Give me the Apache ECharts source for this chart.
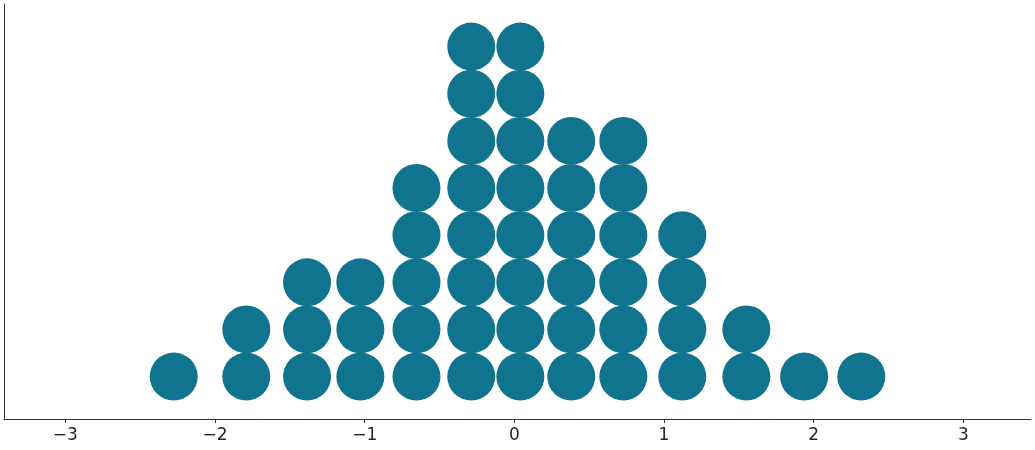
<!DOCTYPE html>
<html><head><meta charset="utf-8">
<script src="https://cdn.jsdelivr.net/npm/echarts@6/dist/echarts.min.js"></script>
<style>html,body{margin:0;padding:0;background:#fff}#c{width:1035px;height:450px}</style>
</head><body><div id="c"></div>
<script>
const binCenters = [-2.276, -1.791, -1.385, -1.029, -0.654, -0.288, 0.04, 0.38, 0.728, 1.122, 1.55, 1.936, 2.318];
const binCounts = [1, 2, 3, 3, 5, 8, 8, 6, 6, 4, 2, 1, 1];
const xTicks = [-3, -2, -1, 0, 1, 2, 3];

const points = [];
binCenters.forEach((x, i) => {
  for (let k = 0; k < binCounts[i]; k++) points.push([x, k]);
});

const chart = echarts.init(document.getElementById('c'));
chart.setOption({
  animation: false,
  grid: {left: 4, right: 4, top: 4, bottom: 31},
  xAxis: {
    type: 'value', min: -3.41, max: 3.452,
    axisLine: {onZero: false, lineStyle: {color: '#333', width: 1}},
    splitLine: {show: false},
    axisLabel: {
      color: '#262626', fontSize: 17, fontFamily: 'DejaVu Sans', margin: 8,
      customValues: xTicks,
      formatter: v => (v < 0 ? '\u2212' + Math.abs(v) : String(v))
    },
    axisTick: {show: true, length: 4, lineStyle: {color: '#333'}, customValues: xTicks}
  },
  yAxis: {
    type: 'value', min: -0.9, max: 7.904,
    axisLine: {show: true, onZero: false, lineStyle: {color: '#333', width: 1}},
    axisTick: {show: false}, axisLabel: {show: false}, splitLine: {show: false}
  },
  series: [{
    type: 'scatter', data: points, symbol: 'circle', symbolSize: 48,
    itemStyle: {color: '#10748f', opacity: 1}
  }]
});
</script></body></html>
